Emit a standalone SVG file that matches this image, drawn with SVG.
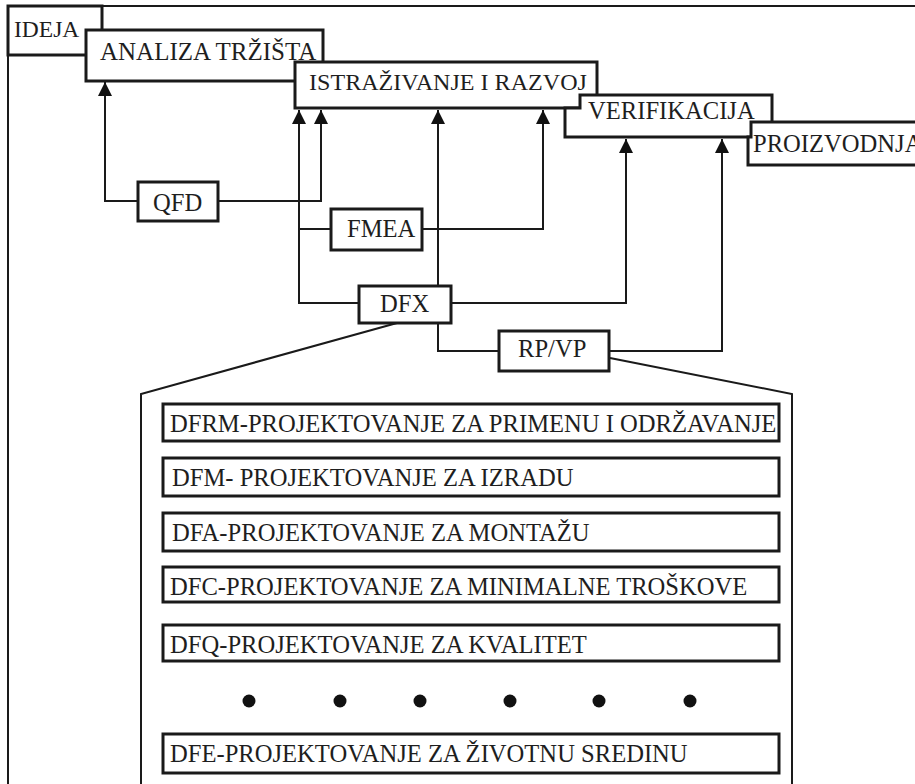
<svg xmlns="http://www.w3.org/2000/svg" width="915" height="784" viewBox="0 0 915 784">
<style>
.stage{fill:#fff;stroke:#1a1a1a;stroke-width:3}
.box{fill:#fff;stroke:#1a1a1a;stroke-width:3}
.item{fill:#fff;stroke:#1a1a1a;stroke-width:3}
.ln{fill:none;stroke:#1a1a1a;stroke-width:2}
text{font-family:"Liberation Serif","Times New Roman",serif;font-size:24.6px;fill:#1e1e1e}
</style>
<defs>
<marker id="arr" markerWidth="14" markerHeight="14" refX="14" refY="7" orient="auto" markerUnits="userSpaceOnUse">
<path d="M0,0 L14,7 L0,14 z" fill="#111"/>
</marker>
</defs>
<rect width="915" height="784" fill="#fff"/>
<g id="frame">
<path class="ln" d="M8,784 V6 H915"/>
</g>
<g id="ideja">
<rect class="stage" x="8" y="6" width="94" height="49"/>
<text x="14" y="37" style="font-size:23.5px">IDEJA</text>
</g>
<g id="analiza">
<rect class="stage" x="86" y="30" width="237" height="51"/>
<text x="100" y="60" style="font-size:25px">ANALIZA TRŽIŠTA</text>
</g>
<g id="istrazivanje">
<rect class="stage" x="295" y="62" width="302" height="46"/>
<text x="309" y="90" style="font-size:24.1px">ISTRAŽIVANJE I RAZVOJ</text>
</g>
<g id="verifikacija">
<path class="stage" d="M580,95 H772 V137 H565 V108 H580 Z"/>
<text x="588" y="119">VERIFIKACIJA</text>
</g>
<g id="proizvodnja">
<path class="stage" d="M751,122 H925 V165 H748 V137 H751 Z"/>
<text x="753" y="152">PROIZVODNJA</text>
</g>
<g id="connectors">
<path class="ln" d="M138,201 H105 V82" marker-end="url(#arr)"/>
<path class="ln" d="M218,201 H321 V110" marker-end="url(#arr)"/>
<path class="ln" d="M359,303 H299 V110" marker-end="url(#arr)"/>
<path class="ln" d="M331,229 H299"/>
<path class="ln" d="M438,286 V110" marker-end="url(#arr)"/>
<path class="ln" d="M422,229 H543 V110" marker-end="url(#arr)"/>
<path class="ln" d="M451,303 H626 V139" marker-end="url(#arr)"/>
<path class="ln" d="M438,323 V351 H499"/>
<path class="ln" d="M609,351 H722 V139" marker-end="url(#arr)"/>
<path class="ln" d="M397,323 L141,394 V784"/>
<path class="ln" d="M610,358 L792,394 V784"/>
</g>
<g id="qfd">
<rect class="box" x="138" y="182" width="80" height="39"/>
<text x="153" y="211">QFD</text>
</g>
<g id="fmea">
<rect class="box" x="331" y="209" width="91" height="41"/>
<text x="347" y="237">FMEA</text>
</g>
<g id="dfx">
<rect class="box" x="359" y="286" width="92" height="37"/>
<text x="380" y="312">DFX</text>
</g>
<g id="rpvp">
<rect class="box" x="499" y="331" width="110" height="40"/>
<text x="518" y="357">RP/VP</text>
</g>
<g id="dfrm">
<rect class="item" x="163" y="404" width="616" height="37"/>
<text x="170" y="432">DFRM-PROJEKTOVANJE ZA PRIMENU I ODRŽAVANJE</text>
</g>
<g id="dfm">
<rect class="item" x="163" y="458" width="616" height="38"/>
<text x="172" y="486">DFM- PROJEKTOVANJE ZA IZRADU</text>
</g>
<g id="dfa">
<rect class="item" x="163" y="513" width="616" height="38"/>
<text x="172" y="541">DFA-PROJEKTOVANJE ZA MONTAŽU</text>
</g>
<g id="dfc">
<rect class="item" x="163" y="567" width="616" height="35"/>
<text x="170" y="595">DFC-PROJEKTOVANJE ZA MINIMALNE TROŠKOVE</text>
</g>
<g id="dfq">
<rect class="item" x="163" y="625" width="616" height="36"/>
<text x="170" y="653">DFQ-PROJEKTOVANJE ZA KVALITET</text>
</g>
<g id="dots" fill="#111">
<circle cx="249" cy="701" r="6.5"/>
<circle cx="340" cy="701" r="6.5"/>
<circle cx="420" cy="701" r="6.5"/>
<circle cx="510" cy="701" r="6.5"/>
<circle cx="599" cy="701" r="6.5"/>
<circle cx="690" cy="701" r="6.5"/>
</g>
<g id="dfe">
<rect class="item" x="163" y="734" width="616" height="39"/>
<text x="170" y="762">DFE-PROJEKTOVANJE ZA ŽIVOTNU SREDINU</text>
</g>
</svg>
